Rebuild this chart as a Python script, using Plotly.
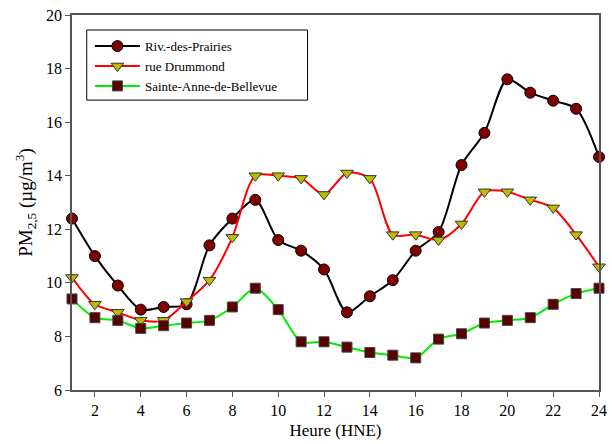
import plotly.graph_objects as go

# Hourly mean PM2.5 concentrations (µg/m³) at three Montréal stations
hours = list(range(1, 25))

riv_des_prairies = [12.4, 11.0, 9.9, 9.0, 9.1, 9.2, 11.4, 12.4, 13.1, 11.6, 11.2, 10.5,
                    8.9, 9.5, 10.1, 11.2, 11.9, 14.4, 15.6, 17.6, 17.1, 16.8, 16.5, 14.7]
rue_drummond = [10.2, 9.2, 8.9, 8.6, 8.6, 9.3, 10.1, 11.7, 14.0, 14.0, 13.9, 13.3,
                14.1, 13.9, 11.8, 11.8, 11.6, 12.2, 13.4, 13.4, 13.1, 12.8, 11.8, 10.6]
sainte_anne = [9.4, 8.7, 8.6, 8.3, 8.4, 8.5, 8.6, 9.1, 9.8, 9.0, 7.8, 7.8,
               7.6, 7.4, 7.3, 7.2, 7.9, 8.1, 8.5, 8.6, 8.7, 9.2, 9.6, 9.8]

series_names = ["Riv.-des-Prairies", "rue Drummond", "Sainte-Anne-de-Bellevue"]
x_ticks = list(range(2, 25, 2))
y_ticks = list(range(6, 21, 2))

FONT = "Liberation Serif, Times New Roman, serif"

fig = go.Figure()

fig.add_trace(go.Scatter(
    x=hours, y=riv_des_prairies, name=series_names[0], mode="lines+markers",
    line=dict(color="black", width=2, shape="spline", smoothing=0.8),
    marker=dict(symbol="circle", size=11, color="#800000",
                line=dict(color="black", width=1)),
    cliponaxis=False,
))
fig.add_trace(go.Scatter(
    x=hours, y=rue_drummond, name=series_names[1], mode="lines+markers",
    line=dict(color="#ff0000", width=2, shape="spline", smoothing=0.8),
    marker=dict(symbol="triangle-down", size=11, color="#bcbc00",
                line=dict(color="#333333", width=1)),
    cliponaxis=False,
))
fig.add_trace(go.Scatter(
    x=hours, y=sainte_anne, name=series_names[2], mode="lines+markers",
    line=dict(color="#00ee00", width=2, shape="spline", smoothing=0.8),
    marker=dict(symbol="square", size=10, color="#5a0000",
                line=dict(color="#444444", width=1)),
    cliponaxis=False,
))

axis_common = dict(
    showline=True, linecolor="#555555", linewidth=1.5, mirror=True,
    showgrid=False, zeroline=False,
    ticks="outside", ticklen=5, tickwidth=1, tickcolor="#555555",
    tickfont=dict(family=FONT, size=16, color="black"),
    ticklabeloverflow="allow",
)

# Frame drawn around the legend entries
legend_box = dict(type="rect", xref="paper", yref="paper",
                  x0=0.028, x1=0.447, y0=0.773, y1=0.96,
                  line=dict(color="black", width=1), fillcolor="white", layer="below")

fig.update_layout(
    width=612, height=444,
    margin=dict(l=72, r=5, t=15, b=54),
    paper_bgcolor="white", plot_bgcolor="white",
    font=dict(family=FONT, color="black"),
    xaxis=dict(range=[1, 24], tickvals=x_ticks,
               title=dict(text="Heure (HNE)", font=dict(family=FONT, size=17), standoff=6),
               **axis_common),
    yaxis=dict(range=[6, 20], tickvals=y_ticks,
               title=dict(text="PM<sub>2,5</sub> (µg/m<sup>3</sup>)",
                          font=dict(family=FONT, size=19), standoff=8),
               **axis_common),
    shapes=[legend_box],
    legend=dict(x=0.034, y=0.957, xanchor="left", yanchor="top",
                bgcolor="rgba(0,0,0,0)", borderwidth=0,
                font=dict(family=FONT, size=13, color="black"),
                itemwidth=45, tracegroupgap=0),
    showlegend=True,
)

fig.write_html("out.html")
